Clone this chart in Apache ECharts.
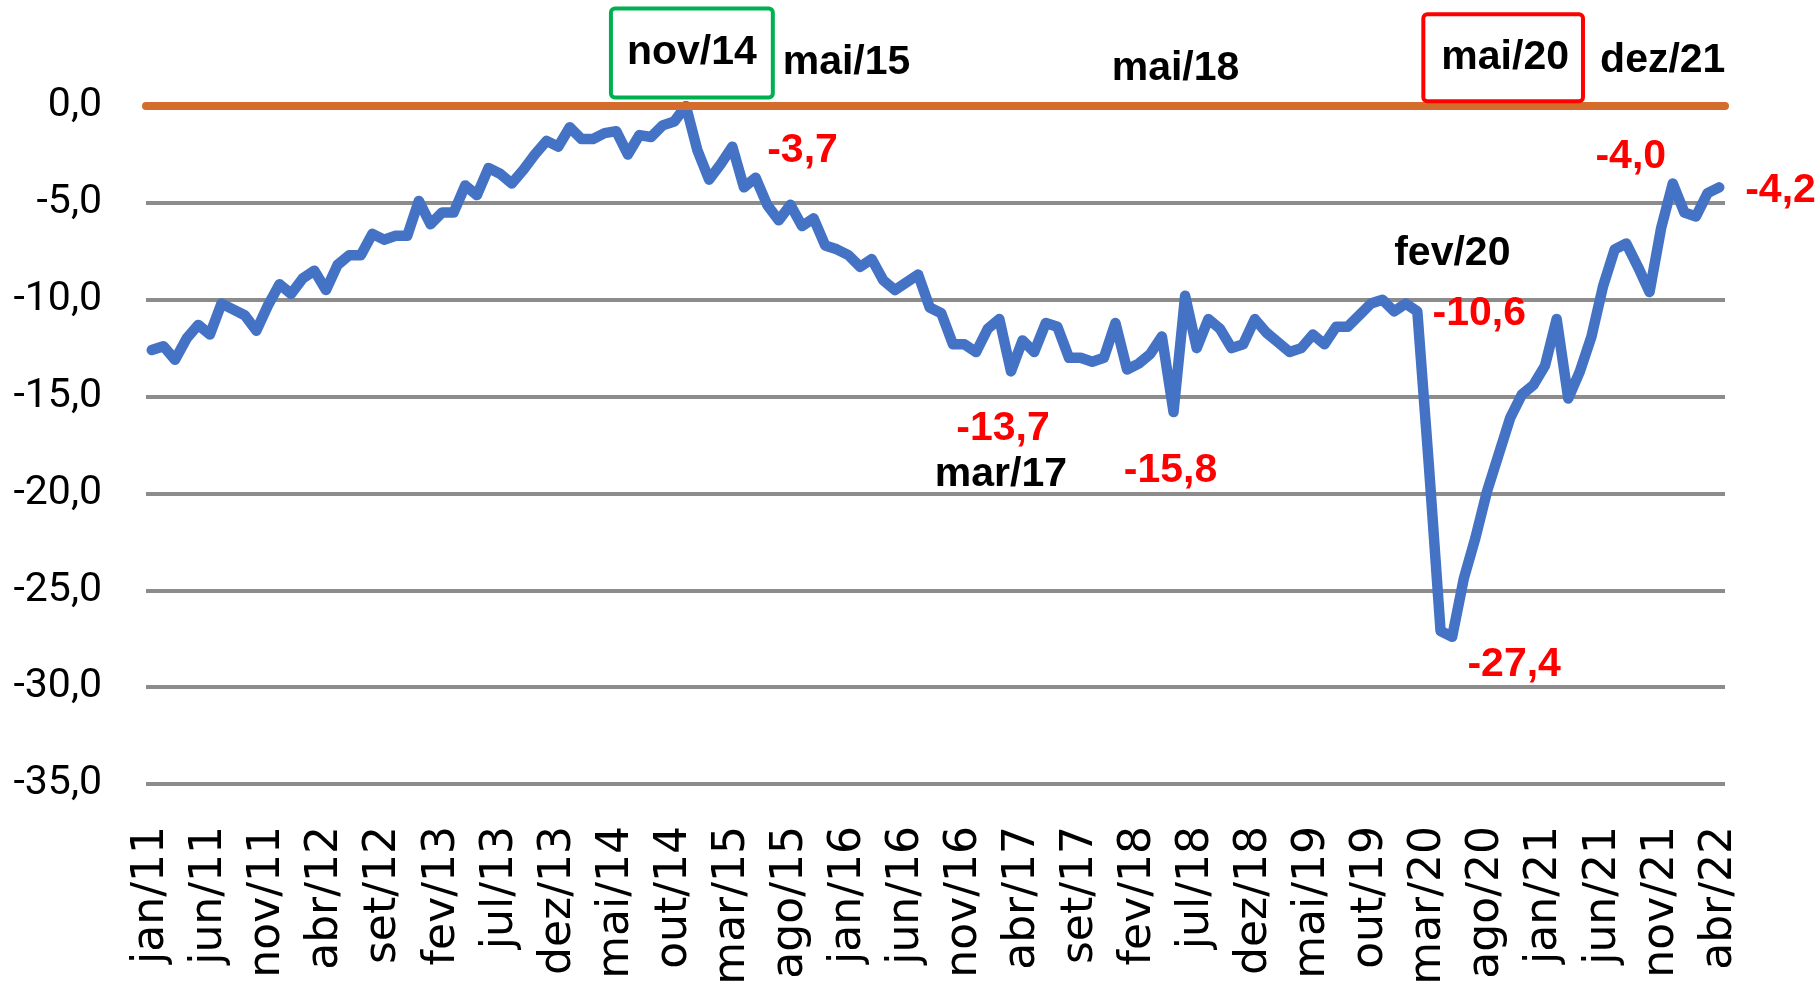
<!DOCTYPE html>
<html>
<head>
<meta charset="utf-8">
<script src="https://cdn.jsdelivr.net/npm/echarts@6/dist/echarts.min.js"></script>
<style>
  html, body { margin: 0; padding: 0; background: #ffffff; }
  #chart { width: 1816px; height: 987px; }
</style>
</head>
<body>
<div id="chart"></div>
<script>
// ---- data ----
const MONTHS = ['jan','fev','mar','abr','mai','jun','jul','ago','set','out','nov','dez'];
const FIRST_YEAR = 11;            // 2011
const N_POINTS = 136;             // jan/11 .. abr/22

const VALUES = [
  -12.6, -12.4, -13.1, -12.0, -11.3, -11.8, -10.2, -10.5, -10.8, -11.6, -10.3, -9.2,   // 2011
  -9.7, -8.9, -8.5, -9.5, -8.2, -7.7, -7.7, -6.6, -6.9, -6.7, -6.7, -4.9,              // 2012
  -6.1, -5.5, -5.5, -4.1, -4.6, -3.2, -3.5, -4.0, -3.3, -2.5, -1.8, -2.1,              // 2013
  -1.1, -1.7, -1.7, -1.4, -1.3, -2.5, -1.5, -1.6, -1.0, -0.8, 0.0, -2.3,               // 2014
  -3.8, -3.0, -2.1, -4.2, -3.7, -5.1, -5.9, -5.1, -6.2, -5.8, -7.2, -7.4,              // 2015
  -7.7, -8.3, -7.9, -9.0, -9.5, -9.1, -8.7, -10.4, -10.7, -12.3, -12.3, -12.7,         // 2016
  -11.5, -11.0, -13.7, -12.1, -12.7, -11.2, -11.4, -13.0, -13.0, -13.2, -13.0, -11.2,  // 2017
  -13.6, -13.3, -12.8, -11.9, -15.8, -9.8, -12.5, -11.0, -11.5, -12.5, -12.3, -11.0,   // 2018
  -11.7, -12.2, -12.7, -12.5, -11.8, -12.3, -11.4, -11.4, -10.8, -10.2, -10.0, -10.6,  // 2019
  -10.2, -10.6, -18.6, -27.1, -27.4, -24.4, -22.3, -19.9, -18.0, -16.1, -14.9, -14.4,  // 2020
  -13.4, -11.0, -15.1, -13.7, -11.9, -9.3, -7.4, -7.1, -8.3, -9.6, -6.3, -4.0,         // 2021
  -5.5, -5.7, -4.5, -4.2                                                               // 2022
];

const Y_MIN = -35, Y_MAX = 0, Y_STEP = 5;
const REF_LEVEL = 0;

// annotated points: index into the series, and what is written there
const NOTE_INDEX = [46, 52, 88, 112, 131, 52, 131, 135, 109, 109, 74, 74, 88, 112];
const NOTE_KIND  = ['date','date','date','date','date','value','value','value','date','value','value','date','value','value'];

// ---- derived ----
const CATEGORIES = [];
for (let k = 0; k < N_POINTS; k++) {
  CATEGORIES.push(MONTHS[k % 12] + '/' + String(FIRST_YEAR + Math.floor(k / 12)));
}
const fmt = v => (Math.abs(v) < 1e-9 ? 0 : v).toFixed(1).replace('.', ',');

// ---- styles / positions of annotations (pixel offsets from their point) ----
const NOTE_STYLE = [
  { off: [6, -53],    box: '#00B050', pad: [29, 14, 15, 14] },
  { off: [91, -115] },
  { off: [2, -343] },
  { off: [51, -579],  box: '#FF0000', pad: [24, 12, 18, 16] },
  { off: [-10, -123] },
  { off: [47, -27] },
  { off: [-42, -27] },
  { off: [26, 3], align: 'left' },
  { off: [35, -58] },
  { off: [62, 2] },
  { off: [-8, 57] },
  { off: [-10, 103] },
  { off: [-3, 59] },
  { off: [62, 28] }
];

const ANNOT_FONT = '"Liberation Sans", Arial, sans-serif';
const ANNOT_SIZE = 41;

const markData = NOTE_INDEX.map((idx, j) => {
  const st = NOTE_STYLE[j];
  const isVal = NOTE_KIND[j] === 'value';
  const lab = {
    show: true,
    position: 'inside',
    formatter: isVal ? fmt(VALUES[idx]) : CATEGORIES[idx],
    offset: st.off,
    color: isVal ? '#FF0000' : '#000000',
    fontSize: ANNOT_SIZE,
    lineHeight: ANNOT_SIZE,
    fontWeight: 'bold',
    fontFamily: ANNOT_FONT,
    align: st.align || 'center',
    verticalAlign: 'middle'
  };
  if (st.box) {
    lab.borderColor = st.box;
    lab.borderWidth = 4;
    lab.borderRadius = 2;
    lab.backgroundColor = '#ffffff';
    lab.padding = st.pad;
  }
  return { coord: [idx, VALUES[idx]], label: lab };
});

const chart = echarts.init(document.getElementById('chart'), null, { renderer: 'canvas' });

chart.setOption({
  animation: false,
  backgroundColor: '#ffffff',
  grid: { left: 146, right: 91, top: 106, bottom: 203, containLabel: false, outerBoundsMode: 'none' },
  xAxis: {
    type: 'category',
    data: CATEGORIES,
    boundaryGap: true,
    axisLine: { show: false },
    axisTick: { show: false },
    axisLabel: {
      interval: 4,
      rotate: 90,
      margin: 42,
      fontSize: 44,
      color: '#000000',
      fontFamily: '"DejaVu Sans", sans-serif'
    },
    splitLine: { show: false }
  },
  yAxis: {
    type: 'value',
    min: Y_MIN,
    max: Y_MAX,
    interval: Y_STEP,
    axisLine: { show: false },
    axisTick: { show: false },
    axisLabel: {
      margin: 44,
      fontSize: 41,
      color: '#000000',
      fontFamily: 'Roboto, "Liberation Sans", sans-serif',
      formatter: v => fmt(v)
    },
    splitLine: { show: true, lineStyle: { color: '#8C8C8C', width: 4 } }
  },
  series: [
    {
      name: 'ref',
      type: 'line',
      data: [],
      z: 2,
      silent: true,
      markLine: {
        silent: true,
        symbol: 'none',
        label: { show: false },
        lineStyle: { color: '#D46C2B', width: 8, type: 'solid', cap: 'round' },
        data: [{ yAxis: REF_LEVEL }]
      }
    },
    {
      name: 'serie',
      type: 'line',
      data: VALUES,
      z: 3,
      showSymbol: false,
      symbol: 'none',
      smooth: false,
      lineStyle: { color: '#4472C4', width: 10.5, join: 'round', cap: 'round' },
      markPoint: {
        symbol: 'circle',
        symbolSize: 1,
        itemStyle: { color: 'rgba(0,0,0,0)' },
        silent: true,
        data: markData
      }
    }
  ]
});
</script>
</body>
</html>
